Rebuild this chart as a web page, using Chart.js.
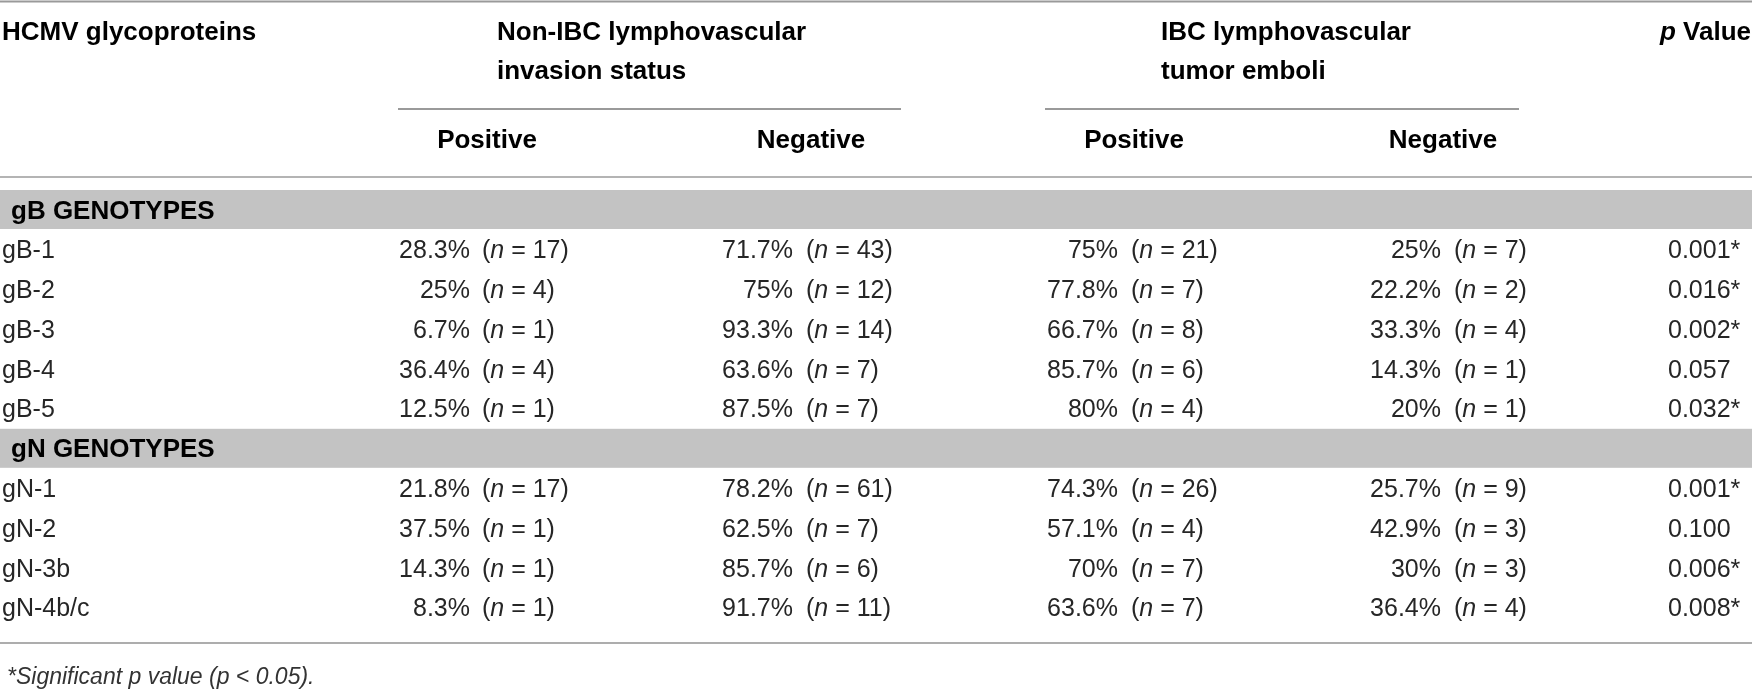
<!DOCTYPE html>
<html lang="en">
<head>
<meta charset="UTF-8">
<title>HCMV glycoproteins and lymphovascular status</title>
<script src="https://cdn.jsdelivr.net/npm/chart.js"></script>
<style>
  html, body { margin: 0; padding: 0; background: #fff; }
  #wrap { width: 1752px; height: 691px; position: relative; }
</style>
</head>
<body>
<div id="wrap"><canvas id="table-chart"></canvas></div>
<script>
var groupTitles = ['gB GENOTYPES', 'gN GENOTYPES'];
var groupSizes = [5, 4];
var rowLabels = ['gB-1', 'gB-2', 'gB-3', 'gB-4', 'gB-5', 'gN-1', 'gN-2', 'gN-3b', 'gN-4b/c'];
var nonIbcPosPct = [28.3, 25, 6.7, 36.4, 12.5, 21.8, 37.5, 14.3, 8.3];
var nonIbcPosN   = [17, 4, 1, 4, 1, 17, 1, 1, 1];
var nonIbcNegPct = [71.7, 75, 93.3, 63.6, 87.5, 78.2, 62.5, 85.7, 91.7];
var nonIbcNegN   = [43, 12, 14, 7, 7, 61, 7, 6, 11];
var ibcPosPct    = [75, 77.8, 66.7, 85.7, 80, 74.3, 57.1, 70, 63.6];
var ibcPosN      = [21, 7, 8, 6, 4, 26, 4, 7, 7];
var ibcNegPct    = [25, 22.2, 33.3, 14.3, 20, 25.7, 42.9, 30, 36.4];
var ibcNegN      = [7, 2, 4, 1, 1, 9, 3, 3, 4];
var pValues      = [0.001, 0.016, 0.002, 0.057, 0.032, 0.001, 0.100, 0.006, 0.008];
var significance = 0.05;

var headFirst = 'HCMV glycoproteins';
var spanTitles = [['Non-IBC lymphovascular', 'invasion status'], ['IBC lymphovascular', 'tumor emboli']];
var subTitles = ['Positive', 'Negative', 'Positive', 'Negative'];
var footnote = '*Significant p value (p < 0.05).';

// layout (pixels of the 1752 x 691 canvas)
var L = {
  w: 1752, h: 691,
  firstSlotY: 209.5, pitch: 39.8, bandHalf: 19.5, textDy: 2,
  topRuleY: 1.5, headY1: 33, headY2: 72, subRuleY: 109, subHeadY: 141,
  headRuleY: 177, bottomRuleY: 643, noteY: 678,
  labelX: 2, bandLabelX: 11,
  cols: [
    { pctRight: 470, nLeft: 482, head: 487 },
    { pctRight: 793, nLeft: 806, head: 811 },
    { pctRight: 1118, nLeft: 1131, head: 1134 },
    { pctRight: 1441, nLeft: 1454, head: 1443 }
  ],
  spans: [ { x0: 398, x1: 901, textX: 497 }, { x0: 1045, x1: 1519, textX: 1161 } ],
  pLeft: 1668, pHeadRight: 1751
};

var FAMILY = '"Liberation Sans", Arial, "DejaVu Sans", sans-serif';
var BODY = '25px ' + FAMILY;
var BODY_IT = 'italic 25px ' + FAMILY;
var BOLD = 'bold 26px ' + FAMILY;
var BOLD_IT = 'italic bold 26px ' + FAMILY;
var INK = '#262626';

// slot positions: a band row for each group followed by its data rows
var bandSlots = [];
var rowSlots = [];
var slot = 0;
groupSizes.forEach(function (n) {
  bandSlots.push(slot++);
  for (var i = 0; i < n; i++) rowSlots.push(slot++);
});
function slotY(s) { return L.firstSlotY + s * L.pitch; }

function cellPoints(x) {
  return rowSlots.map(function (s) { return { x: x, y: slotY(s) + L.textDy }; });
}

var pctCols = [nonIbcPosPct, nonIbcNegPct, ibcPosPct, ibcNegPct];
var nCols = [nonIbcPosN, nonIbcNegN, ibcPosN, ibcNegN];

var datasets = [];
datasets.push({ kind: 'label', data: cellPoints(L.labelX), texts: rowLabels });
pctCols.forEach(function (col, c) {
  datasets.push({ kind: 'pct', data: cellPoints(L.cols[c].pctRight), texts: col.map(function (v) { return v + '%'; }) });
  datasets.push({ kind: 'n', data: cellPoints(L.cols[c].nLeft), texts: nCols[c] });
});
datasets.push({ kind: 'p', data: cellPoints(L.pLeft), texts: pValues.map(function (v) {
  return v.toFixed(3) + (v < significance ? '*' : '');
}) });
datasets.push({ kind: 'band', data: bandSlots.map(function (s) { return { x: L.bandLabelX, y: slotY(s) + L.textDy }; }), texts: groupTitles });

datasets.forEach(function (d) { d.pointRadius = 0; d.showLine = false; });

function hRule(ctx, sx, sy, x0, x1, y, color) {
  ctx.save();
  ctx.strokeStyle = color;
  ctx.lineWidth = 2;
  ctx.beginPath();
  ctx.moveTo(sx.getPixelForValue(x0), sy.getPixelForValue(y));
  ctx.lineTo(sx.getPixelForValue(x1), sy.getPixelForValue(y));
  ctx.stroke();
  ctx.restore();
}

var tablePlugin = {
  id: 'tablePlugin',
  beforeDatasetsDraw: function (chart) {
    var ctx = chart.ctx, sx = chart.scales.x, sy = chart.scales.y;
    ctx.save();
    ctx.fillStyle = '#fff';
    ctx.fillRect(0, 0, chart.width, chart.height);
    // grey group bands
    ctx.fillStyle = '#c3c3c3';
    bandSlots.forEach(function (s) {
      var yt = sy.getPixelForValue(slotY(s) - L.bandHalf);
      var yb = sy.getPixelForValue(slotY(s) + L.bandHalf);
      ctx.fillRect(sx.getPixelForValue(0), yt, sx.getPixelForValue(L.w) - sx.getPixelForValue(0), yb - yt);
    });
    ctx.restore();

    hRule(ctx, sx, sy, 0, L.w, L.topRuleY, '#9a9a9a');
    L.spans.forEach(function (sp) { hRule(ctx, sx, sy, sp.x0, sp.x1, L.subRuleY, '#9a9a9a'); });
    hRule(ctx, sx, sy, 0, L.w, L.headRuleY, '#b4b4b4');
    hRule(ctx, sx, sy, 0, L.w, L.bottomRuleY, '#adadad');

    // header text
    ctx.save();
    ctx.fillStyle = '#000';
    ctx.textBaseline = 'middle';
    ctx.font = BOLD;
    ctx.textAlign = 'left';
    ctx.fillText(headFirst, sx.getPixelForValue(L.labelX), sy.getPixelForValue(L.headY1));
    spanTitles.forEach(function (lines, i) {
      ctx.fillText(lines[0], sx.getPixelForValue(L.spans[i].textX), sy.getPixelForValue(L.headY1));
      ctx.fillText(lines[1], sx.getPixelForValue(L.spans[i].textX), sy.getPixelForValue(L.headY2));
    });
    ctx.textAlign = 'center';
    subTitles.forEach(function (t, i) {
      ctx.fillText(t, sx.getPixelForValue(L.cols[i].head), sy.getPixelForValue(L.subHeadY));
    });
    // "p Value" right aligned, p in italics
    ctx.textAlign = 'left';
    var wv = ctx.measureText(' Value').width;
    ctx.font = BOLD_IT;
    var wp = ctx.measureText('p').width;
    var xr = sx.getPixelForValue(L.pHeadRight);
    ctx.fillText('p', xr - wv - wp, sy.getPixelForValue(L.headY1));
    ctx.font = BOLD;
    ctx.fillText(' Value', xr - wv, sy.getPixelForValue(L.headY1));

    // footnote
    ctx.font = 'italic 23px ' + FAMILY;
    ctx.fillStyle = '#333';
    ctx.fillText(footnote, sx.getPixelForValue(7), sy.getPixelForValue(L.noteY));
    ctx.restore();
  },
  afterDatasetsDraw: function (chart) {
    var ctx = chart.ctx;
    ctx.save();
    ctx.textBaseline = 'middle';
    chart.data.datasets.forEach(function (ds, di) {
      var meta = chart.getDatasetMeta(di);
      meta.data.forEach(function (pt, i) {
        var t = ds.texts[i];
        var x = pt.x, y = pt.y;
        ctx.fillStyle = INK;
        if (ds.kind === 'band') {
          ctx.font = BOLD; ctx.fillStyle = '#000'; ctx.textAlign = 'left';
          ctx.fillText(t, x, y);
        } else if (ds.kind === 'pct') {
          ctx.font = BODY; ctx.textAlign = 'right';
          ctx.fillText(t, x, y);
        } else if (ds.kind === 'n') {
          ctx.textAlign = 'left';
          ctx.font = BODY;
          ctx.fillText('(', x, y);
          x += ctx.measureText('(').width;
          ctx.font = BODY_IT;
          ctx.fillText('n', x, y);
          x += ctx.measureText('n').width;
          ctx.font = BODY;
          ctx.fillText(' = ' + t + ')', x, y);
        } else {
          ctx.font = BODY; ctx.textAlign = 'left';
          ctx.fillText(t, x, y);
        }
      });
    });
    ctx.restore();
  }
};

var ctx = document.getElementById('table-chart').getContext('2d');
var chart = new Chart(ctx, {
  type: 'scatter',
  data: { datasets: datasets },
  options: {
    responsive: true,
    maintainAspectRatio: false,
    animation: false,
    events: [],
    layout: { padding: 0 },
    plugins: { legend: { display: false }, tooltip: { enabled: false } },
    scales: {
      x: { type: 'linear', min: 0, max: L.w, display: false },
      y: { type: 'linear', min: 0, max: L.h, reverse: true, display: false }
    }
  },
  plugins: [tablePlugin]
});
</script>
</body>
</html>
